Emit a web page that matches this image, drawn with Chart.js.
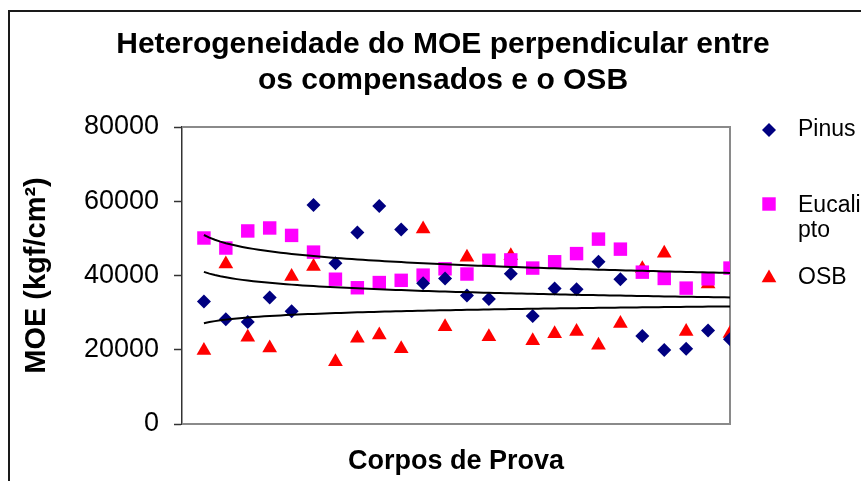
<!DOCTYPE html>
<html>
<head>
<meta charset="utf-8">
<script src="https://cdn.jsdelivr.net/npm/chart.js@4"></script>
<style>
  html, body { margin: 0; padding: 0; background: #fff; }
  canvas { display: block; }
</style>
</head>
<body>
<canvas id="moeChart" width="861" height="481"></canvas>
<script>
// specimen numbers (x axis is hidden in the original)
const specimens = [1, 2, 3, 4, 5, 6, 7, 8, 9, 10, 11, 12, 13, 14, 15, 16, 17, 18, 19, 20, 21, 22, 23, 24, 25];

// MOE values in kgf/cm2
const pinus = [33000, 28200, 27500, 34100, 30400, 59000, 43300, 51600, 58700, 52400, 37900, 39200, 34600,
               33700, 40500, 29100, 36500, 36300, 43700, 39000, 23700, 19900, 20300, 25200, 22800];
const eucalipto = [50100, 47400, 52000, 52800, 50800, 46300, 39000, 36700, 38100, 38700, 40100, 41800, 40400,
                   44100, 44200, 42000, 43700, 45900, 49800, 47100, 40900, 39200, 36600, 39100, 42000];
const osb = [19800, 43100, 23400, 20500, 39700, 42400, 16800, 23100, 24000, 20300, 52500, 26200, 44900,
             23500, 45300, 22400, 24300, 24900, 21200, 27100, 41800, 46000, 24900, 37700, 24400];

const seriesNames = ['Pinus', 'Eucalipto', 'OSB'];
const legendLines = [['Pinus'], ['Eucali', 'pto'], ['OSB']];
const yTicks = [0, 20000, 40000, 60000, 80000];

const FONT = "'Liberation Sans', Arial, Helvetica, sans-serif";
Chart.defaults.font.family = FONT;
Chart.defaults.color = '#000';

function toPoints(values) {
    return values.map((v, i) => ({ x: specimens[i], y: v }));
}

// logarithmic least-squares trend line, like the spreadsheet one
function logTrend(values) {
    const xs = specimens.map(s => Math.log(s));
    const n = xs.length;
    const mx = xs.reduce((a, b) => a + b, 0) / n;
    const my = values.reduce((a, b) => a + b, 0) / n;
    let sxy = 0, sxx = 0;
    xs.forEach((x, i) => {
        sxy += (x - mx) * (values[i] - my);
        sxx += (x - mx) * (x - mx);
    });
    const b = sxy / sxx;
    const a = my - b * mx;
    const pts = [];
    const first = specimens[0], last = specimens[specimens.length - 1];
    for (let s = first; s <= last + 1e-9; s += 0.25) {
        pts.push({ x: s, y: a + b * Math.log(s) });
    }
    return pts;
}

const markerStyles = [
    { pointStyle: 'rectRot', radius: 7, color: '#000080' },
    { pointStyle: 'rect', radius: 9.5, color: '#FF00FF' },
    { pointStyle: 'triangle', radius: 8.5, color: '#FF0000' }
];
const seriesData = [pinus, eucalipto, osb];

const scatterSets = seriesData.map((values, i) => ({
    type: 'scatter',
    label: seriesNames[i],
    data: toPoints(values),
    pointStyle: markerStyles[i].pointStyle,
    pointRadius: markerStyles[i].radius,
    pointBackgroundColor: markerStyles[i].color,
    pointBorderWidth: 0,
    borderColor: markerStyles[i].color,
    order: 1
}));

const trendSets = seriesData.map((values, i) => ({
    type: 'line',
    label: seriesNames[i] + ' trend',
    data: logTrend(values),
    borderColor: '#000',
    borderWidth: 2,
    pointRadius: 0,
    fill: false,
    tension: 0,
    order: 0
}));

// outer frame + plot area border
const framePlugin = {
    id: 'frame',
    beforeDraw(chart) {
        const ctx = chart.ctx;
        ctx.save();
        ctx.strokeStyle = '#1a1a1a';
        ctx.lineWidth = 2;
        ctx.strokeRect(9, 11, 900, 520);
        ctx.restore();
    },
    beforeDatasetsDraw(chart) {
        const { ctx, chartArea: a } = chart;
        ctx.save();
        ctx.strokeStyle = '#8a8a8a';
        ctx.lineWidth = 2;
        ctx.beginPath();
        ctx.moveTo(a.left, a.top);
        ctx.lineTo(a.right, a.top);
        ctx.lineTo(a.right, a.bottom);
        ctx.lineTo(a.left, a.bottom);
        ctx.stroke();
        ctx.restore();
    }
};

// legend drawn by hand so the wrapped "Eucali / pto" label fits
const legendPlugin = {
    id: 'sideLegend',
    afterDraw(chart) {
        const ctx = chart.ctx;
        const markerX = 769, textX = 798;
        const rowY = [130, 204, 278];
        ctx.save();
        ctx.font = '23px ' + FONT;
        ctx.textAlign = 'left';
        ctx.textBaseline = 'middle';
        markerStyles.forEach((m, i) => {
            ctx.fillStyle = m.color;
            ctx.strokeStyle = m.color;
            ctx.lineWidth = 0;
            Chart.helpers.drawPoint(ctx, { pointStyle: m.pointStyle, radius: m.radius, borderWidth: 0, rotation: 0 }, markerX, rowY[i]);
            ctx.fillStyle = '#000';
            legendLines[i].forEach((line, j) => {
                ctx.fillText(line, textX, rowY[i] + (legendLines[i].length > 1 ? 2 : 0) + j * 25);
            });
        });
        ctx.restore();
    }
};

new Chart(document.getElementById('moeChart'), {
    data: { datasets: [...scatterSets, ...trendSets] },
    options: {
        responsive: false,
        animation: false,
        events: [],
        layout: { padding: { top: 0, left: 25, right: 0, bottom: 0 } },
        plugins: {
            legend: { display: false },
            tooltip: { enabled: false },
            title: {
                display: true,
                text: ['Heterogeneidade do MOE perpendicular entre', 'os compensados e o OSB'],
                font: { size: 30, weight: 'bold', lineHeight: 1.2 },
                color: '#000',
                padding: { top: 27, bottom: 28 }
            }
        },
        scales: {
            x: {
                type: 'linear',
                min: 0,
                max: 25,
                grid: { display: false },
                border: { display: false },
                ticks: { display: false },
                title: {
                    display: true,
                    text: 'Corpos de Prova',
                    font: { size: 27, weight: 'bold', lineHeight: 1.2 },
                    color: '#000',
                    padding: { top: 21, bottom: 3 }
                },
                afterFit(scale) { scale.height = 57; }
            },
            y: {
                min: 0,
                max: 80000,
                afterBuildTicks(scale) { scale.ticks = yTicks.map(v => ({ value: v })); },
                grid: {
                    drawOnChartArea: false,
                    drawTicks: true,
                    tickLength: 8,
                    tickColor: '#333',
                    tickWidth: 1.5
                },
                border: { display: true, color: '#333', width: 1.5 },
                ticks: {
                    font: { size: 27 },
                    color: '#000',
                    padding: 15,
                    callback: v => String(v)
                },
                title: {
                    display: true,
                    text: 'MOE (kgf/cm²)',
                    font: { size: 29, weight: 'bold', lineHeight: 0.85 },
                    color: '#000',
                    padding: { top: 0, bottom: 10 }
                },
                afterFit(scale) { scale.width = 157; }
            },
            // empty right-hand box that keeps room for the legend
            legendSpace: {
                type: 'linear',
                position: 'right',
                display: true,
                grid: { display: false },
                border: { display: false },
                ticks: { display: false },
                afterFit(scale) { scale.width = 131; }
            }
        }
    },
    plugins: [framePlugin, legendPlugin]
});
</script>
</body>
</html>
